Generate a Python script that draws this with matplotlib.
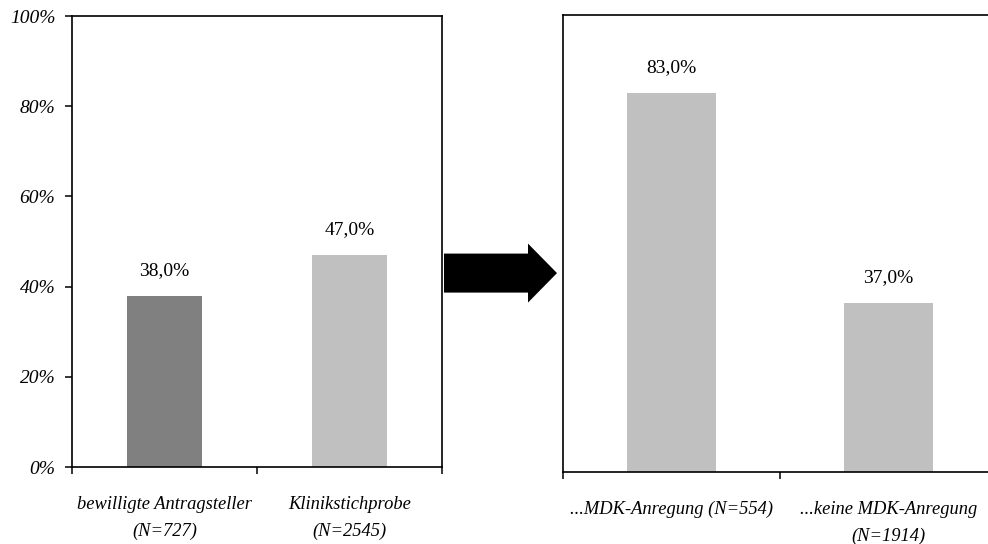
import matplotlib
matplotlib.use("Agg")
import matplotlib.pyplot as plt
from matplotlib.patches import FancyArrow

plt.rcParams['font.family'] = ['Liberation Serif', 'DejaVu Serif']

# Data
left_labels = ["bewilligte Antragsteller\n(N=727)", "Klinikstichprobe\n(N=2545)"]
left_values = [38.0, 47.0]
left_colors = ["#808080", "#c0c0c0"]

right_labels = ["...MDK-Anregung (N=554)", "...keine MDK-Anregung\n(N=1914)"]
right_values = [83.0, 37.0]
right_colors = ["#c0c0c0", "#c0c0c0"]

yticks = [0, 20, 40, 60, 80, 100]

fig = plt.figure(figsize=(9.88, 5.44), dpi=100)
ax1 = fig.add_axes([0.0729, 0.1415, 0.3745, 0.829])
ax2 = fig.add_axes([0.5698, 0.1324, 0.4393, 0.840])


def fmt(v):
    return f"{v:.1f}%".replace(".", ",")


def draw_panel(ax, labels, values, colors):
    pos = list(range(len(values)))
    bars = ax.bar(pos, values, width=0.41, color=colors)
    for b, v in zip(bars, values):
        ax.annotate(fmt(v), (b.get_x() + b.get_width() / 2, v),
                    xytext=(0, 12), textcoords="offset points",
                    ha="center", va="bottom", fontsize=14)
    ax.set_xlim(-0.5, len(values) - 0.5)
    ax.set_ylim(0, 100)
    ax.set_xticks([p - 0.5 for p in pos] + [pos[-1] + 0.5], labels=[])
    ax.set_xticks(pos, labels=labels, minor=True)
    ax.tick_params(axis="x", which="major", direction="out", length=5, width=1.1)
    ax.tick_params(axis="x", which="minor", length=0, pad=21, labelsize=13.3)
    for lab in ax.get_xticklabels(minor=True):
        lab.set_style("italic")
        lab.set_linespacing(1.7)
    for s in ax.spines.values():
        s.set_linewidth(1.2)


draw_panel(ax1, left_labels, left_values, left_colors)
ax1.set_yticks(yticks, labels=[f"{t}%" for t in yticks])
ax1.tick_params(axis="y", direction="out", length=5, width=1.1, pad=7, labelsize=14)
for lab in ax1.get_yticklabels():
    lab.set_style("italic")

draw_panel(ax2, right_labels, right_values, right_colors)
ax2.set_yticks([])
ax2.spines["right"].set_visible(False)

# Arrow between the two panels
arrow = FancyArrow(444 / 988, 0.498, 84 / 988, 0, width=39 / 544,
                   head_width=59 / 544, head_length=29 / 988,
                   length_includes_head=False, transform=fig.transFigure,
                   color="black", linewidth=0)
fig.patches.append(arrow)

fig.savefig("out.png", dpi=100)
